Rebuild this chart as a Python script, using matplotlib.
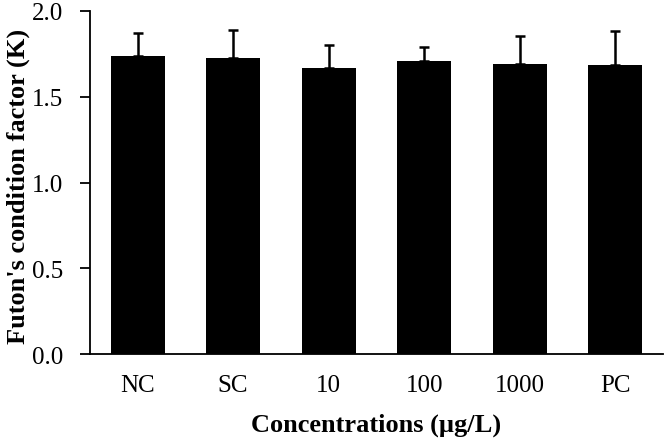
import numpy as np
import matplotlib
matplotlib.use('Agg')
import matplotlib.pyplot as plt

plt.rcParams['font.family'] = ['Liberation Serif', 'DejaVu Serif']

# data
groups = ['NC', 'SC', '10', '100', '1000', 'PC']
k_mean = [1.735, 1.723, 1.667, 1.705, 1.692, 1.684]
k_sd = [0.138, 0.168, 0.133, 0.087, 0.163, 0.196]
y_ticks = [0.0, 0.5, 1.0, 1.5, 2.0]

fig = plt.figure(figsize=(6.65, 4.39), dpi=100)
ax = fig.add_axes([0.135, 0.191, 0.862, 0.782])

x = np.arange(len(groups))
ax.bar(x, k_mean, width=0.565, color='black', zorder=2)
# only the upper half of the error bar is drawn
ax.errorbar(x, k_mean, yerr=[np.zeros(len(k_sd)), k_sd], fmt='none',
            ecolor='black', elinewidth=1.8, capsize=3.8, capthick=1.8, zorder=3)

ax.set_xlim(-0.5, 5.5)
ax.set_ylim(0, 2.0)
ax.set_yticks(y_ticks)
ax.set_yticklabels([f'{v:.1f}' for v in y_ticks])
ax.set_xticks(x)
ax.set_xticklabels(groups)

for s in ['top', 'right']:
    ax.spines[s].set_visible(False)
for s in ['left', 'bottom']:
    ax.spines[s].set_linewidth(1.3)

ax.tick_params(axis='y', direction='out', length=7, width=1.3, labelsize=18, pad=12)
ax.tick_params(axis='x', length=0, labelsize=18, pad=14)

ax.set_xlabel('Concentrations (µg/L)', fontsize=19, fontweight='bold')
ax.set_ylabel("Futon's condition factor (K)", fontsize=19, fontweight='bold')
ax.xaxis.set_label_coords(0.5, -0.17)
ax.yaxis.set_label_coords(-0.104, 0.49)

fig.savefig('out.png', dpi=100)
